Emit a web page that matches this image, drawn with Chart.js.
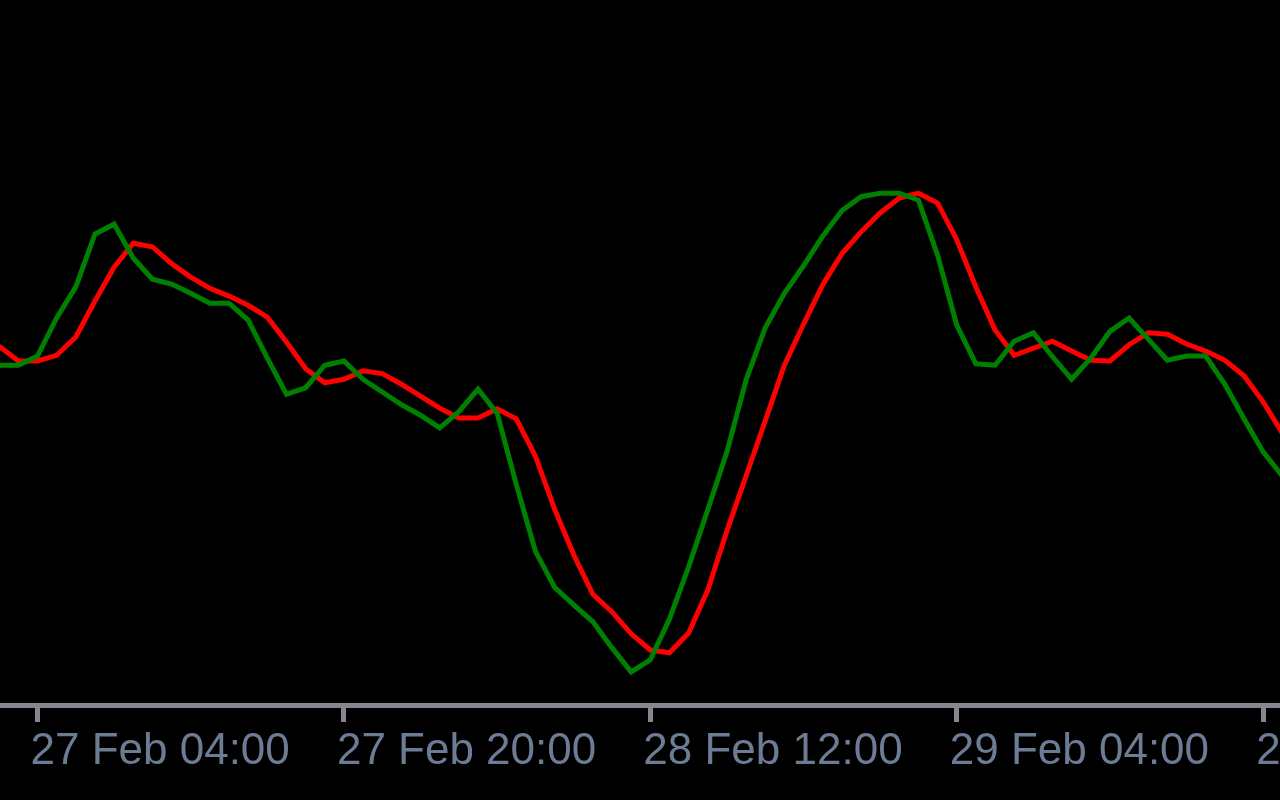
<!DOCTYPE html>
<html>
<head>
<meta charset="utf-8">
<script src="https://cdn.jsdelivr.net/npm/chart.js@4/dist/chart.umd.min.js"></script>
<style>
  html, body { margin: 0; padding: 0; background: #000; }
  #wrap { width: 1280px; height: 800px; }
</style>
</head>
<body>
<div id="wrap"><canvas id="grafica" width="1280" height="800"></canvas></div>
<script>
// hours counted from 27 Feb 04:00 (H1 bars)
const hours = [-2, -1, 0, 1, 2, 3, 4, 5, 6, 7, 8, 9, 10, 11, 12, 13, 14, 15, 16, 17, 18, 19,
  20, 21, 22, 23, 24, 25, 26, 27, 28, 29, 30, 31, 32, 33, 34, 35, 36, 37, 38, 39, 40, 41, 42,
  43, 44, 45, 46, 47, 48, 49, 50, 51, 52, 53, 54, 55, 56, 57, 58, 59, 60, 61, 62, 63, 64, 65];

// %K main line (green)
const mainLine = [48.2, 48.2, 49.5, 54.9, 59.3, 66.8, 68.2, 63.4, 60.4, 59.7, 58.4, 57.0,
  57.0, 54.6, 49.2, 44.1, 45.0, 48.2, 48.8, 46.2, 44.4, 42.6, 41.1, 39.3, 41.6, 44.8, 41.4,
  31.3, 21.8, 16.7, 14.2, 11.8, 8.1, 4.7, 6.4, 12.2, 19.6, 27.7, 35.9, 46.1, 53.5, 58.4,
  62.3, 66.5, 70.1, 72.1, 72.6, 72.6, 71.6, 63.8, 53.9, 48.4, 48.2, 51.6, 52.8, 49.4, 46.2,
  49.2, 53.0, 54.9, 51.9, 48.9, 49.5, 49.5, 45.5, 40.6, 35.9, 32.5];

// %D signal line (red)
const signalLine = [50.9, 48.8, 48.8, 49.6, 52.2, 57.3, 62.1, 65.5, 65.0, 62.6, 60.7, 59.1,
  58.0, 56.7, 55.0, 51.5, 47.7, 45.7, 46.2, 47.4, 47.0, 45.5, 43.8, 42.1, 40.7, 40.7, 42.0,
  40.6, 35.3, 27.8, 21.3, 15.7, 13.2, 10.1, 7.8, 7.4, 10.2, 16.3, 24.7, 32.5, 40.3, 48.2,
  54.0, 59.6, 64.0, 67.1, 69.8, 71.9, 72.6, 71.2, 66.0, 59.3, 53.2, 49.6, 50.6, 51.6, 50.2,
  48.9, 48.8, 51.1, 52.8, 52.6, 51.2, 50.2, 48.9, 46.7, 43.0, 38.6];

const tickHours = [0, 16, 32, 48, 64];
const tickLabels = ["27 Feb 04:00", "27 Feb 20:00", "28 Feb 12:00", "29 Feb 04:00", "29 Feb 20:00"];

const puntos = (serie) => serie.map((v, i) => ({ x: hours[i], y: v }));

const fondo = {
  id: "fondo",
  beforeDraw(chart) {
    const ctx = chart.ctx;
    ctx.save();
    ctx.fillStyle = "#000000";
    ctx.fillRect(0, 0, chart.width, chart.height);
    ctx.restore();
  },
};

const ctx = document.getElementById("grafica").getContext("2d");
new Chart(ctx, {
  type: "line",
  data: {
    datasets: [
      {
        label: "Main",
        data: puntos(mainLine),
        borderColor: "#008000",
        borderWidth: 5,
        pointRadius: 0,
        tension: 0,
        fill: false,
      },
      {
        label: "Signal",
        data: puntos(signalLine),
        borderColor: "#ff0000",
        borderWidth: 5,
        pointRadius: 0,
        tension: 0,
        fill: false,
      },
    ],
  },
  options: {
    responsive: false,
    animation: false,
    layout: { padding: 0, autoPadding: false },
    plugins: {
      legend: { display: false },
      tooltip: { enabled: false },
    },
    scales: {
      x: {
        type: "linear",
        min: -1.958,
        max: 64.88,
        afterBuildTicks: (scale) => {
          scale.ticks = tickHours.map((v) => ({ value: v }));
        },
        afterFit: (scale) => {
          scale.height = 95;
          scale.paddingLeft = 0;
          scale.paddingRight = 0;
        },
        grid: {
          drawOnChartArea: false,
          drawTicks: true,
          tickLength: 17,
          color: "#86868e",
          lineWidth: 5,
        },
        border: { display: true, color: "#86868e", width: 5 },
        ticks: {
          align: "start",
          labelOffset: -7,
          padding: 8,
          autoSkip: false,
          maxRotation: 0,
          color: "#6b7c94",
          font: { family: "'Liberation Sans', Arial, sans-serif", size: 44, lineHeight: 1 },
          callback: (value) => {
            const i = tickHours.indexOf(value);
            return i >= 0 ? tickLabels[i] : "";
          },
        },
      },
      y: {
        display: false,
        min: 0,
        max: 100,
      },
    },
  },
  plugins: [fondo],
});
</script>
</body>
</html>
